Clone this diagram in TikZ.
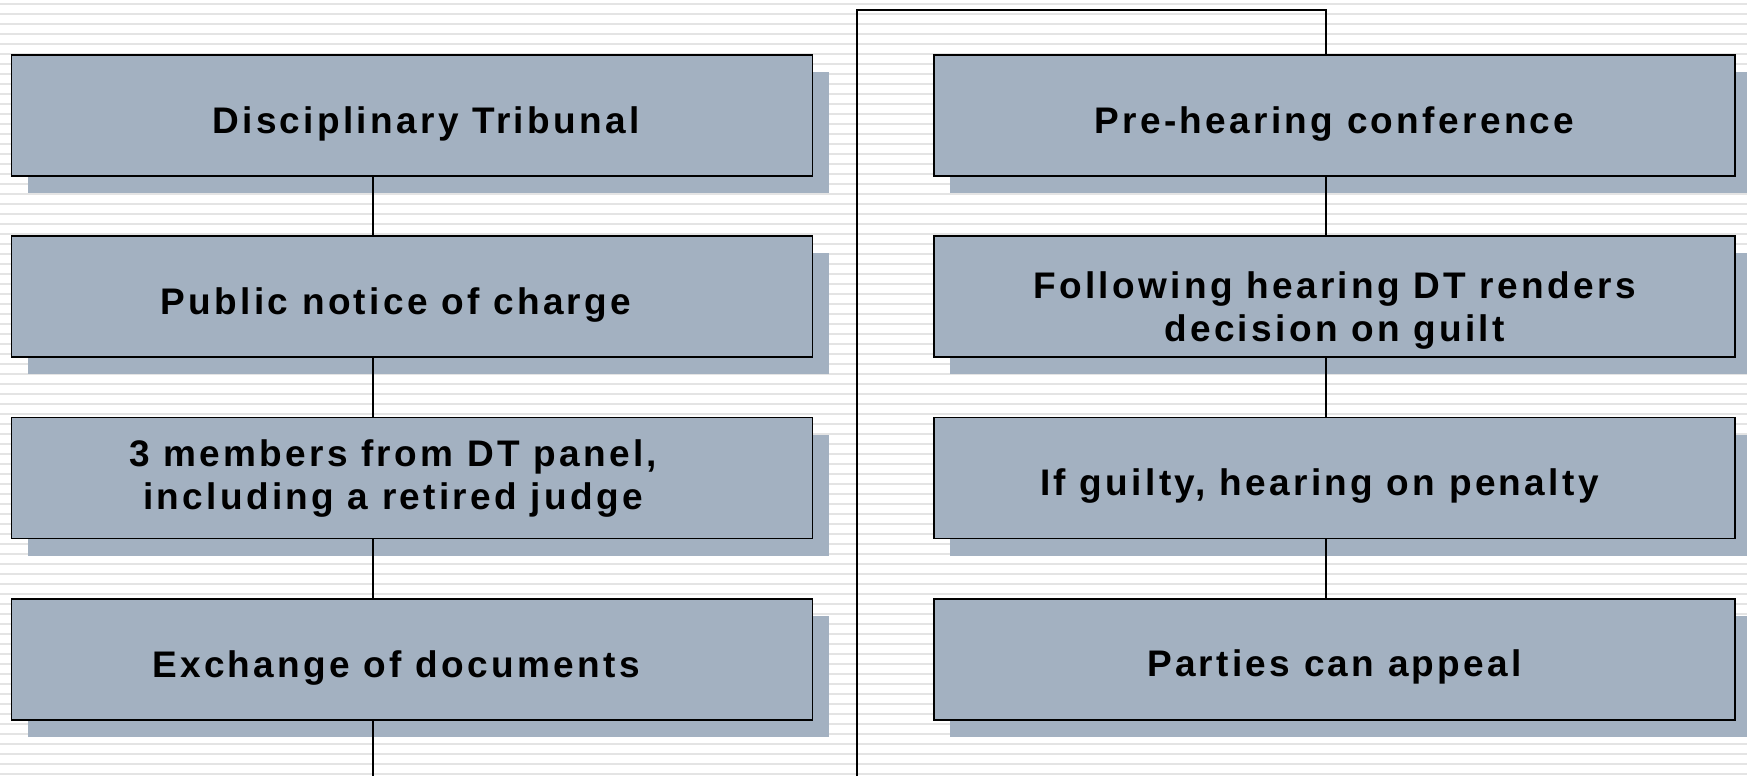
\documentclass[tikz,border=0pt]{standalone}
\usepackage{fontspec}
\setmainfont{Liberation Sans}
\newfontfamily\boxfont[LetterSpace=9]{Liberation Sans}
\usetikzlibrary{shadows}
\definecolor{boxc}{RGB}{163,177,193}
\definecolor{stripec}{RGB}{228,228,228}
\begin{document}
\begin{tikzpicture}[x=1pt,y=-1pt,
  stepbox/.style={draw=black,line width=1.6pt,fill=boxc,minimum width=801pt,minimum height=121pt,
    inner sep=0pt,
    drop shadow={shadow xshift=16pt,shadow yshift=-17pt,fill=boxc,opacity=1,draw=none}},
  lab/.style={align=center,inner sep=0pt,
    font=\boxfont\fontsize{37}{43}\selectfont\bfseries},
  conn/.style={draw=black,line width=1.6pt},
  stripe/.style={draw=stripec,line width=2pt}]
\useasboundingbox (0,0) rectangle (1747,776);
\fill[white] (0,0) rectangle (1747,776);
\foreach \yy in {4,14,...,774} \draw[stripe] (0,\yy) -- (1747,\yy);
% coordinates for connector columns
\coordinate (lx) at (373,0);
\coordinate (rx) at (1326,0);
\coordinate (lbot) at (373,776);
\coordinate (dbot) at (857,776);
\coordinate (dtop) at (857,10);
% left column
\node[stepbox,label={[lab,xshift=14pt,yshift=-8pt]center:{Disciplinary Tribunal}}] (l1) at (412,115.5) {};
\node[stepbox,label={[lab,xshift=-16pt,yshift=-9pt]center:{Public notice of charge}}] (l2) at (412,296.5) {};
\node[stepbox,label={[lab,xshift=-19pt,yshift=-1pt]center:{3 members from DT panel,\\including a retired judge}}] (l3) at (412,478) {};
\node[stepbox,label={[lab,xshift=-16pt,yshift=-9pt]center:{Exchange of documents}}] (l4) at (412,659.5) {};
% right column
\node[stepbox,label={[lab,yshift=-9pt]center:{Pre-hearing conference}}] (r1) at (1334.5,115.5) {};
\node[stepbox,label={[lab,yshift=-14pt]center:{Following hearing DT renders\\decision on guilt}}] (r2) at (1334.5,296.5) {};
\node[stepbox,label={[lab,xshift=-15pt,yshift=-8pt]center:{If guilty, hearing on penalty}}] (r3) at (1334.5,478) {};
\node[stepbox,label={[lab,yshift=-7pt]center:{Parties can appeal}}] (r4) at (1334.5,659.5) {};
% connectors
\draw[conn] (l1.south -| lx) -- (l2.north -| lx);
\draw[conn] (l2.south -| lx) -- (l3.north -| lx);
\draw[conn] (l3.south -| lx) -- (l4.north -| lx);
\draw[conn] (l4.south -| lx) -- (lbot);
\draw[conn] (dbot) -- (dtop) -| (r1.north -| rx);
\draw[conn] (r1.south -| rx) -- (r2.north -| rx);
\draw[conn] (r2.south -| rx) -- (r3.north -| rx);
\draw[conn] (r3.south -| rx) -- (r4.north -| rx);
\end{tikzpicture}
\end{document}
